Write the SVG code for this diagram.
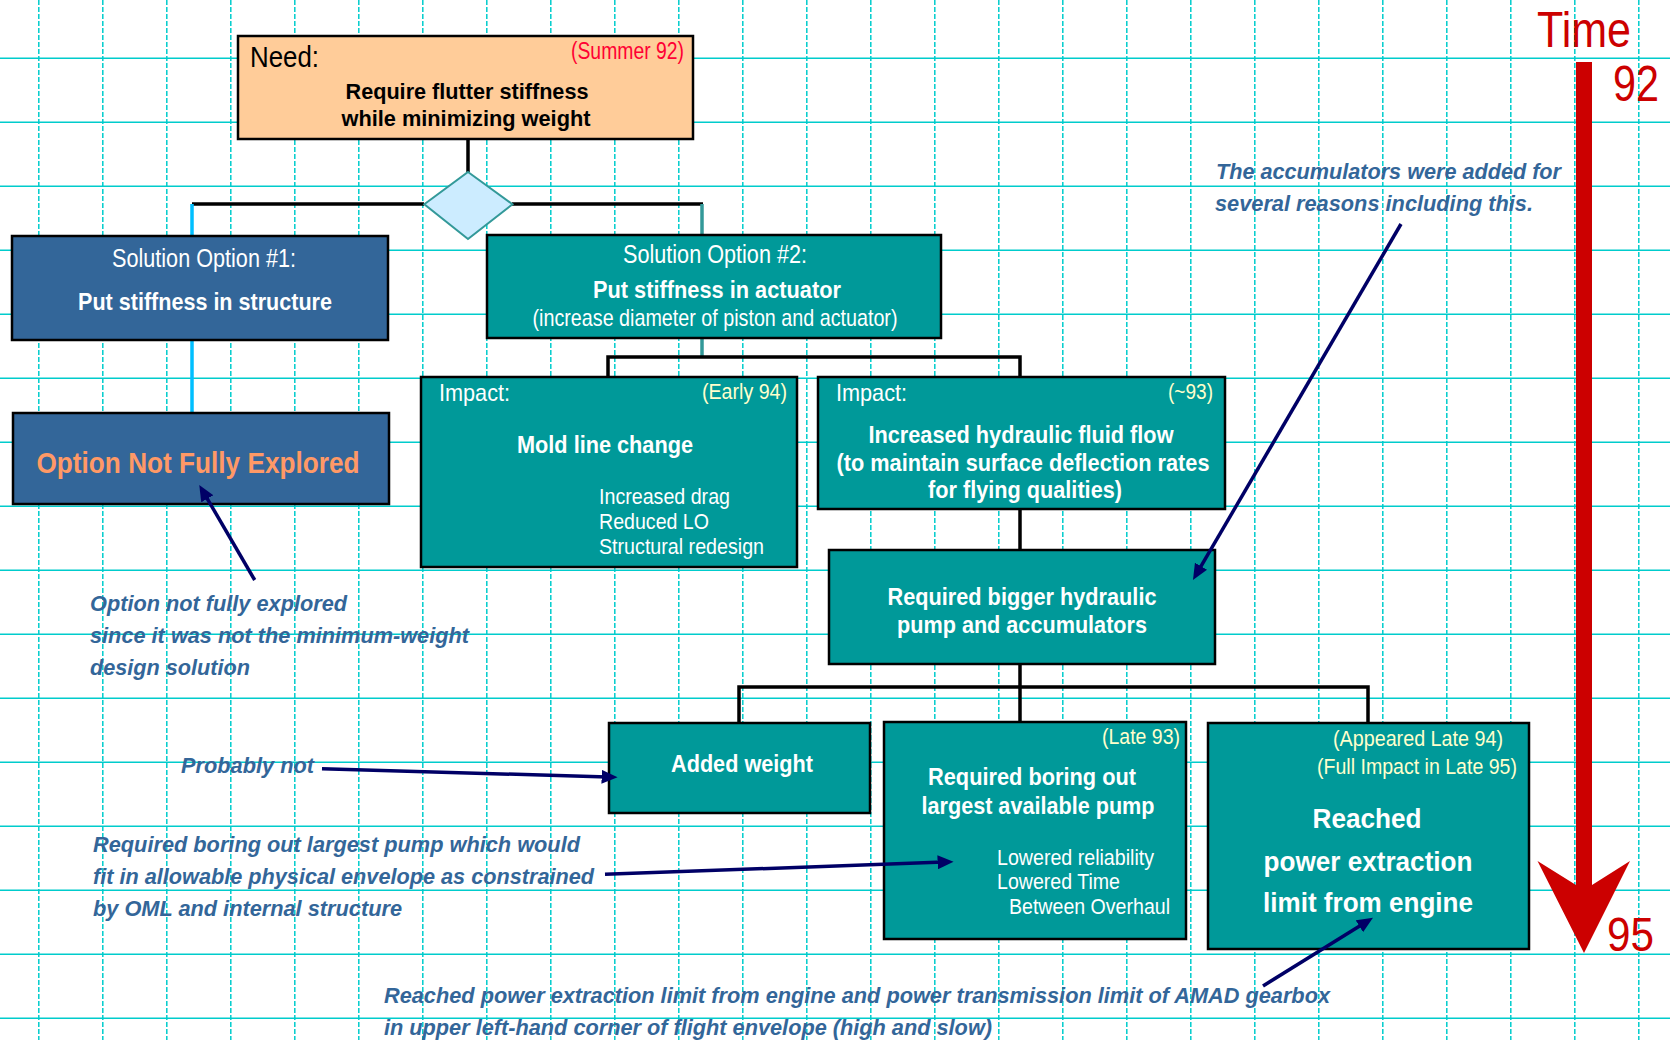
<svg xmlns="http://www.w3.org/2000/svg" width="1670" height="1040" viewBox="0 0 1670 1040">
<style>
text{font-family:"Liberation Sans",Arial,sans-serif;}
.gh{stroke:#00CCCC;stroke-width:1.5;fill:none}
.gv{stroke:#00CCCC;stroke-width:1.5;fill:none;stroke-dasharray:5 2}
.box{stroke:#000;stroke-width:2.5}
.teal{fill:#009999}
.blue{fill:#336699}
.w{fill:#fff}
.y{fill:#FFFFCC}
.b{font-weight:bold}
.m{text-anchor:middle}
.e{text-anchor:end}
.ann{font-weight:bold;font-style:italic;fill:#336699;font-size:22px}
.con{stroke:#000;stroke-width:3.5;fill:none}
.cy{stroke:#00BFFF;stroke-width:3.5;fill:none}
.tc{stroke:#339999;stroke-width:3.5;fill:none}
.arr{stroke:#000066;stroke-width:3.5;fill:none;marker-end:url(#ah)}
</style>
<defs>
<marker id="ah" markerUnits="userSpaceOnUse" markerWidth="16" markerHeight="14" refX="6" refY="7" orient="auto"><path d="M0,0 L16,7 L0,14 z" fill="#000066"/></marker>
</defs>
<rect width="1670" height="1040" fill="#fff"/>
<g id="grid">
<path class="gh" d="M0 58.3H1670M0 122.3H1670M0 186.3H1670M0 250.3H1670M0 314.3H1670M0 378.3H1670M0 442.3H1670M0 506.3H1670M0 570.3H1670M0 634.3H1670M0 698.3H1670M0 762.3H1670M0 826.3H1670M0 890.3H1670M0 954.3H1670M0 1018.3H1670"/>
<path class="gv" d="M38.8 0V1040M102.8 0V1040M166.8 0V1040M230.8 0V1040M294.8 0V1040M358.8 0V1040M422.8 0V1040M486.8 0V1040M550.8 0V1040M614.8 0V1040M678.8 0V1040M742.8 0V1040M806.8 0V1040M870.8 0V1040M934.8 0V1040M998.8 0V1040M1062.8 0V1040M1126.8 0V1040M1190.8 0V1040M1254.8 0V1040M1318.8 0V1040M1382.8 0V1040M1446.8 0V1040M1510.8 0V1040M1574.8 0V1040M1638.8 0V1040"/>
</g>
<g id="connectors">
<path class="con" d="M468 139V172"/>
<path class="con" d="M424 204H192"/>
<path class="cy" d="M192 204V236M192 340V413"/>
<path class="con" d="M512 204H703"/>
<path class="tc" d="M702 204V235M702 338V357"/>
<path class="con" d="M608 377V357H1020V377"/>
<path class="con" d="M1020 509V550"/>
<path class="con" d="M1020 664V687M739 723V687H1368V723M1020 687V722"/>
</g>
<g id="need">
<rect class="box" x="238" y="36" width="455" height="103" fill="#FFCC99"/>
<text x="250" y="67" font-size="29" textLength="69" lengthAdjust="spacingAndGlyphs">Need:</text>
<text class="e" x="684" y="59" font-size="23" fill="#FF0033" textLength="113" lengthAdjust="spacingAndGlyphs">(Summer 92)</text>
<text class="b m" x="467" y="99" font-size="22" textLength="243" lengthAdjust="spacingAndGlyphs">Require flutter stiffness</text>
<text class="b m" x="466" y="126" font-size="22" textLength="249" lengthAdjust="spacingAndGlyphs">while minimizing weight</text>
</g>
<g id="decision">
<polygon points="468,172 512.5,204.3 468,239 424.3,204.3" fill="#CCECFF" stroke="#339999" stroke-width="2"/>
</g>
<g id="option1">
<rect class="box blue" x="12" y="236" width="376" height="104"/>
<text class="w m" x="204" y="267" font-size="25" textLength="184" lengthAdjust="spacingAndGlyphs">Solution Option #1:</text>
<text class="w b m" x="205" y="310" font-size="24" textLength="254" lengthAdjust="spacingAndGlyphs">Put stiffness in structure</text>
</g>
<g id="notexplored">
<rect class="box blue" x="13" y="413" width="376" height="91"/>
<text class="b m" x="198" y="473" font-size="30" fill="#FF9966" textLength="323" lengthAdjust="spacingAndGlyphs">Option Not Fully Explored</text>
</g>
<g id="option2">
<rect class="box teal" x="487" y="235" width="454" height="103"/>
<text class="w m" x="715" y="263" font-size="25" textLength="184" lengthAdjust="spacingAndGlyphs">Solution Option #2:</text>
<text class="w b m" x="717" y="298" font-size="24" textLength="248" lengthAdjust="spacingAndGlyphs">Put stiffness in actuator</text>
<text class="w m" x="715" y="326" font-size="24" textLength="365" lengthAdjust="spacingAndGlyphs">(increase diameter of piston and actuator)</text>
</g>
<g id="impact1">
<rect class="box teal" x="421" y="377" width="376" height="190"/>
<text class="w" x="439" y="401" font-size="24" textLength="71" lengthAdjust="spacingAndGlyphs">Impact:</text>
<text class="y e" x="787" y="399" font-size="22" textLength="85" lengthAdjust="spacingAndGlyphs">(Early 94)</text>
<text class="w b m" x="605" y="453" font-size="24" textLength="176" lengthAdjust="spacingAndGlyphs">Mold line change</text>
<text class="w" x="599" y="504" font-size="22" textLength="131" lengthAdjust="spacingAndGlyphs">Increased drag</text>
<text class="w" x="599" y="529" font-size="22" textLength="110" lengthAdjust="spacingAndGlyphs">Reduced LO</text>
<text class="w" x="599" y="554" font-size="22" textLength="165" lengthAdjust="spacingAndGlyphs">Structural redesign</text>
</g>
<g id="impact2">
<rect class="box teal" x="818" y="377" width="407" height="132"/>
<text class="w" x="836" y="401" font-size="24" textLength="71" lengthAdjust="spacingAndGlyphs">Impact:</text>
<text class="y e" x="1213" y="399" font-size="22" textLength="45" lengthAdjust="spacingAndGlyphs">(~93)</text>
<text class="w b m" x="1021" y="443" font-size="24" textLength="305" lengthAdjust="spacingAndGlyphs">Increased hydraulic fluid flow</text>
<text class="w b m" x="1023" y="471" font-size="24" textLength="373" lengthAdjust="spacingAndGlyphs">(to maintain surface deflection rates</text>
<text class="w b m" x="1025" y="498" font-size="24" textLength="194" lengthAdjust="spacingAndGlyphs">for flying qualities)</text>
</g>
<g id="pump">
<rect class="box teal" x="829" y="550" width="386" height="114"/>
<text class="w b m" x="1022" y="605" font-size="24" textLength="269" lengthAdjust="spacingAndGlyphs">Required bigger hydraulic</text>
<text class="w b m" x="1022" y="633" font-size="24" textLength="250" lengthAdjust="spacingAndGlyphs">pump and accumulators</text>
</g>
<g id="weight">
<rect class="box teal" x="609" y="723" width="261" height="90"/>
<text class="w b m" x="742" y="772" font-size="24" textLength="142" lengthAdjust="spacingAndGlyphs">Added weight</text>
</g>
<g id="boring">
<rect class="box teal" x="884" y="722" width="302" height="217"/>
<text class="y e" x="1180" y="744" font-size="22" textLength="78" lengthAdjust="spacingAndGlyphs">(Late 93)</text>
<text class="w b m" x="1032" y="785" font-size="24" textLength="208" lengthAdjust="spacingAndGlyphs">Required boring out</text>
<text class="w b m" x="1038" y="814" font-size="24" textLength="233" lengthAdjust="spacingAndGlyphs">largest available pump</text>
<text class="w" x="997" y="865" font-size="22" textLength="157" lengthAdjust="spacingAndGlyphs">Lowered reliability</text>
<text class="w" x="997" y="889" font-size="22" textLength="123" lengthAdjust="spacingAndGlyphs">Lowered Time</text>
<text class="w" x="1009" y="914" font-size="22" textLength="161" lengthAdjust="spacingAndGlyphs">Between Overhaul</text>
</g>
<g id="power">
<rect class="box teal" x="1208" y="723" width="321" height="226"/>
<text class="y m" x="1418" y="746" font-size="22" textLength="170" lengthAdjust="spacingAndGlyphs">(Appeared Late 94)</text>
<text class="y m" x="1417" y="774" font-size="22" textLength="200" lengthAdjust="spacingAndGlyphs">(Full Impact in Late 95)</text>
<text class="w b m" x="1367" y="828" font-size="28" textLength="109" lengthAdjust="spacingAndGlyphs">Reached</text>
<text class="w b m" x="1368" y="871" font-size="28" textLength="209" lengthAdjust="spacingAndGlyphs">power extraction</text>
<text class="w b m" x="1368" y="912" font-size="28" textLength="210" lengthAdjust="spacingAndGlyphs">limit from engine</text>
</g>
<g id="timeline">
<polygon points="1576,62 1592,62 1592,885 1630,861 1584,953 1537.5,861 1576,885" fill="#CC0000"/>
<text x="1537" y="47" font-size="50" fill="#CC0000" textLength="94" lengthAdjust="spacingAndGlyphs">Time</text>
<text x="1613" y="101" font-size="50" fill="#CC0000" textLength="46" lengthAdjust="spacingAndGlyphs">92</text>
<text x="1607" y="951" font-size="48" fill="#CC0000" textLength="47" lengthAdjust="spacingAndGlyphs">95</text>
</g>
<g id="annotations">
<text class="ann" x="1216" y="179" textLength="345" lengthAdjust="spacingAndGlyphs">The accumulators were added for</text>
<text class="ann" x="1215" y="211" textLength="318" lengthAdjust="spacingAndGlyphs">several reasons including this.</text>
<text class="ann" x="90" y="611" textLength="257" lengthAdjust="spacingAndGlyphs">Option not fully explored</text>
<text class="ann" x="90" y="643" textLength="379" lengthAdjust="spacingAndGlyphs">since it was not the minimum-weight</text>
<text class="ann" x="90" y="675" textLength="160" lengthAdjust="spacingAndGlyphs">design solution</text>
<text class="ann" x="181" y="773" textLength="133" lengthAdjust="spacingAndGlyphs">Probably not</text>
<text class="ann" x="93" y="852" textLength="487" lengthAdjust="spacingAndGlyphs">Required boring out largest pump which would</text>
<text class="ann" x="93" y="884" textLength="501" lengthAdjust="spacingAndGlyphs">fit in allowable physical envelope as constrained</text>
<text class="ann" x="93" y="916" textLength="309" lengthAdjust="spacingAndGlyphs">by OML and internal structure</text>
<text class="ann" x="384" y="1003" textLength="946" lengthAdjust="spacingAndGlyphs">Reached power extraction limit from engine and power transmission limit of AMAD gearbox</text>
<text class="ann" x="384" y="1035" textLength="608" lengthAdjust="spacingAndGlyphs">in upper left-hand corner of flight envelope (high and slow)</text>
</g>
<g id="annotation-arrows">
<line class="arr" x1="1401" y1="224" x2="1198" y2="571.4"/>
<line class="arr" x1="254.7" y1="580" x2="204.3" y2="493.6"/>
<line class="arr" x1="322" y1="768.7" x2="607.6" y2="777"/>
<line class="arr" x1="605" y1="874.3" x2="943.6" y2="862.1"/>
<line class="arr" x1="1263" y1="986" x2="1364.5" y2="923"/>
</g>
</svg>
